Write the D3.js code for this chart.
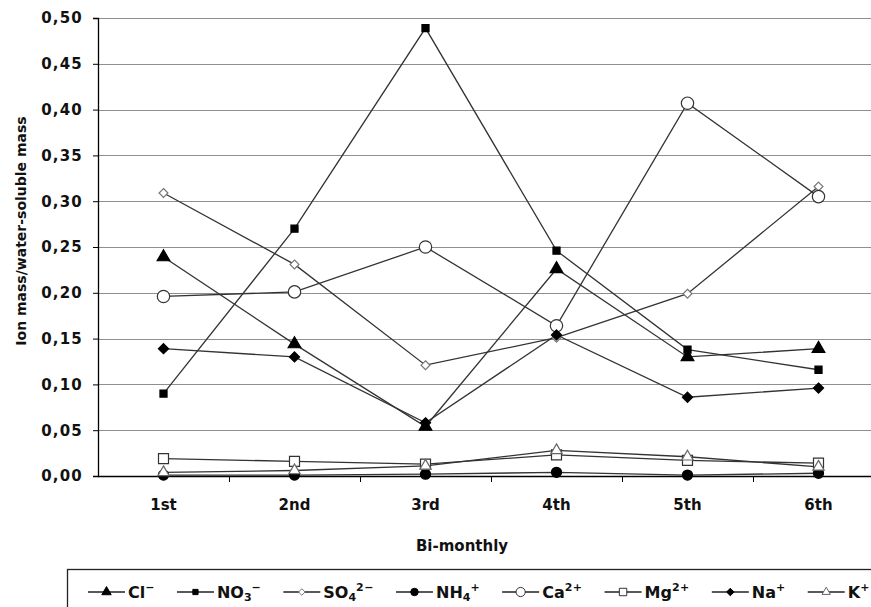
<!DOCTYPE html>
<html>
<head>
<meta charset="utf-8">
<script src="https://cdn.jsdelivr.net/npm/d3@7"></script>
<style>
  body { margin: 0; background: #fff; }
  svg { display: block; }
  text { font-family: "DejaVu Sans", "Liberation Sans", Arial, sans-serif; font-weight: bold; fill: #111; }
</style>
</head>
<body>
<script>
// data
const periods = ['1st', '2nd', '3rd', '4th', '5th', '6th'];
const yTicks = [0, 0.05, 0.10, 0.15, 0.20, 0.25, 0.30, 0.35, 0.40, 0.45, 0.50];

const chloride = [0.239, 0.144, 0.054, 0.226, 0.130, 0.139];
const nitrate  = [0.090, 0.270, 0.489, 0.246, 0.138, 0.116];
const sulfate  = [0.309, 0.231, 0.121, 0.151, 0.199, 0.316];
const ammonium = [0.001, 0.001, 0.002, 0.004, 0.001, 0.003];
const calcium  = [0.196, 0.201, 0.250, 0.164, 0.407, 0.305];
const magnesium = [0.019, 0.016, 0.013, 0.023, 0.017, 0.014];
const sodium   = [0.139, 0.130, 0.058, 0.154, 0.086, 0.096];
const potassium = [0.004, 0.006, 0.011, 0.028, 0.021, 0.010];

// label pieces: [text, 'sub' | 'sup' | null]
const series = [
  {label: [['Cl', null], ['\u2212', 'sup']], values: chloride, shape: d3.symbolTriangle, size: 70, fill: '#000', stroke: '#000'},
  {label: [['NO', null], ['3', 'sub'], ['\u2212', 'sup']], values: nitrate, shape: d3.symbolSquare, size: 50, fill: '#000', stroke: '#000'},
  {label: [['SO', null], ['4', 'sub'], ['2\u2212', 'sup']], values: sulfate, shape: d3.symbolDiamond2, size: 50, fill: '#fff', stroke: '#777'},
  {label: [['NH', null], ['4', 'sub'], ['+', 'sup']], values: ammonium, shape: d3.symbolCircle, size: 80, fill: '#000', stroke: '#000'},
  {label: [['Ca', null], ['2+', 'sup']], values: calcium, shape: d3.symbolCircle, size: 120, fill: '#fff', stroke: '#333'},
  {label: [['Mg', null], ['2+', 'sup']], values: magnesium, shape: d3.symbolSquare, size: 100, fill: '#fff', stroke: '#333'},
  {label: [['Na', null], ['+', 'sup']], values: sodium, shape: d3.symbolDiamond2, size: 66, fill: '#000', stroke: '#000'},
  {label: [['K', null], ['+', 'sup']], values: potassium, shape: d3.symbolTriangle, size: 55, fill: '#fff', stroke: '#666'}
];

const width = 871, height = 607;
const plotLeft = 98, plotTop = 18, plotBottom = 476, step = 131;

const svg = d3.select('body').append('svg')
              .attr('width', width)
              .attr('height', height);

const x = d3.scalePoint()
            .domain(periods)
            .range([plotLeft, plotLeft + step * periods.length])
            .padding(0.5);
const y = d3.scaleLinear()
            .domain([0, 0.5])
            .range([plotBottom, plotTop]);

const fmt = d => d3.format('.2f')(d).replace('.', ',');

// gridlines
svg.append('g')
   .selectAll('line')
   .data(yTicks.filter(d => d > 0))
   .enter()
   .append('line')
   .attr('x1', plotLeft)
   .attr('x2', width)
   .attr('y1', d => Math.round(y(d)) + 0.5)
   .attr('y2', d => Math.round(y(d)) + 0.5)
   .attr('stroke', '#8f8f8f')
   .attr('stroke-width', 1.2);

// y axis
const yAxis = svg.append('g')
   .attr('transform', `translate(${plotLeft},0)`)
   .call(d3.axisLeft(y).tickValues(yTicks).tickFormat(fmt).tickSize(5).tickPadding(10));
yAxis.select('.domain').attr('stroke', '#000').attr('stroke-width', 1.3);
yAxis.selectAll('.tick line').attr('stroke', '#000');
yAxis.selectAll('text')
     .style('font-size', '15px')
     .style('letter-spacing', '1.2px')
     .attr('fill', '#111');

// x axis: labels at the points, ticks at the category boundaries
const xAxis = svg.append('g')
   .attr('transform', `translate(0,${plotBottom})`);
xAxis.append('line')
     .attr('x1', plotLeft).attr('x2', width)
     .attr('y1', 0.5).attr('y2', 0.5)
     .attr('stroke', '#000').attr('stroke-width', 1.3);
xAxis.selectAll('.bound')
     .data(periods.slice(0, -1))
     .enter()
     .append('line')
     .attr('class', 'bound')
     .attr('x1', d => Math.round(x(d) + x.step() / 2) + 0.5)
     .attr('x2', d => Math.round(x(d) + x.step() / 2) + 0.5)
     .attr('y1', 0).attr('y2', 6)
     .attr('stroke', '#000');
xAxis.selectAll('.lab')
     .data(periods)
     .enter()
     .append('text')
     .attr('class', 'lab')
     .attr('x', d => x(d))
     .attr('y', 34)
     .attr('text-anchor', 'middle')
     .style('font-size', '15px')
     .text(d => d);

// axis titles
svg.append('text')
   .attr('transform', 'translate(26,231) rotate(-90)')
   .attr('text-anchor', 'middle')
   .style('font-size', '14px')
   .text('Ion mass/water-soluble mass');
svg.append('text')
   .attr('x', 462)
   .attr('y', 551)
   .attr('text-anchor', 'middle')
   .style('font-size', '15px')
   .text('Bi-monthly');

// series
const line = d3.line()
               .x((d, i) => x(periods[i]))
               .y(d => y(d));

const gSeries = svg.append('g');
series.forEach(s => {
  gSeries.append('path')
         .attr('d', line(s.values))
         .attr('fill', 'none')
         .attr('stroke', '#333')
         .attr('stroke-width', 1.3);
});
series.forEach(s => {
  gSeries.selectAll(null)
         .data(s.values)
         .enter()
         .append('path')
         .attr('transform', (d, i) => `translate(${x(periods[i])},${y(d)})`)
         .attr('d', d3.symbol().type(s.shape).size(s.size))
         .attr('fill', s.fill)
         .attr('stroke', s.stroke)
         .attr('stroke-width', 1.2);
});

// legend
const legend = svg.append('g');
legend.append('rect')
      .attr('x', 67.5).attr('y', 569.5)
      .attr('width', 830).attr('height', 60)
      .attr('fill', 'none')
      .attr('stroke', '#222')
      .attr('stroke-width', 1.3);

let lx = 88;
const ly = 592;
series.forEach(s => {
  const g = legend.append('g');
  g.append('line')
   .attr('x1', lx).attr('x2', lx + 37)
   .attr('y1', ly).attr('y2', ly)
   .attr('stroke', '#222').attr('stroke-width', 1.3);
  g.append('path')
   .attr('transform', `translate(${lx + 18.5},${ly})`)
   .attr('d', d3.symbol().type(s.shape).size(s.size * 0.55))
   .attr('fill', s.fill)
   .attr('stroke', s.stroke);
  const t = g.append('text')
             .attr('x', lx + 40)
             .attr('y', ly + 6)
             .style('font-size', '16px');
  let shift = 0;
  s.label.forEach(([str, kind]) => {
    const ts = t.append('tspan').text(str);
    if (kind === 'sub') { ts.attr('dy', 3).style('font-size', '11px'); shift = 3; }
    if (kind === 'sup') { ts.attr('dy', -7 - shift).style('font-size', '11px').style('letter-spacing', '0.5px'); }
  });
  lx += 40 + t.node().getComputedTextLength() + 22;
});
</script>
</body>
</html>
